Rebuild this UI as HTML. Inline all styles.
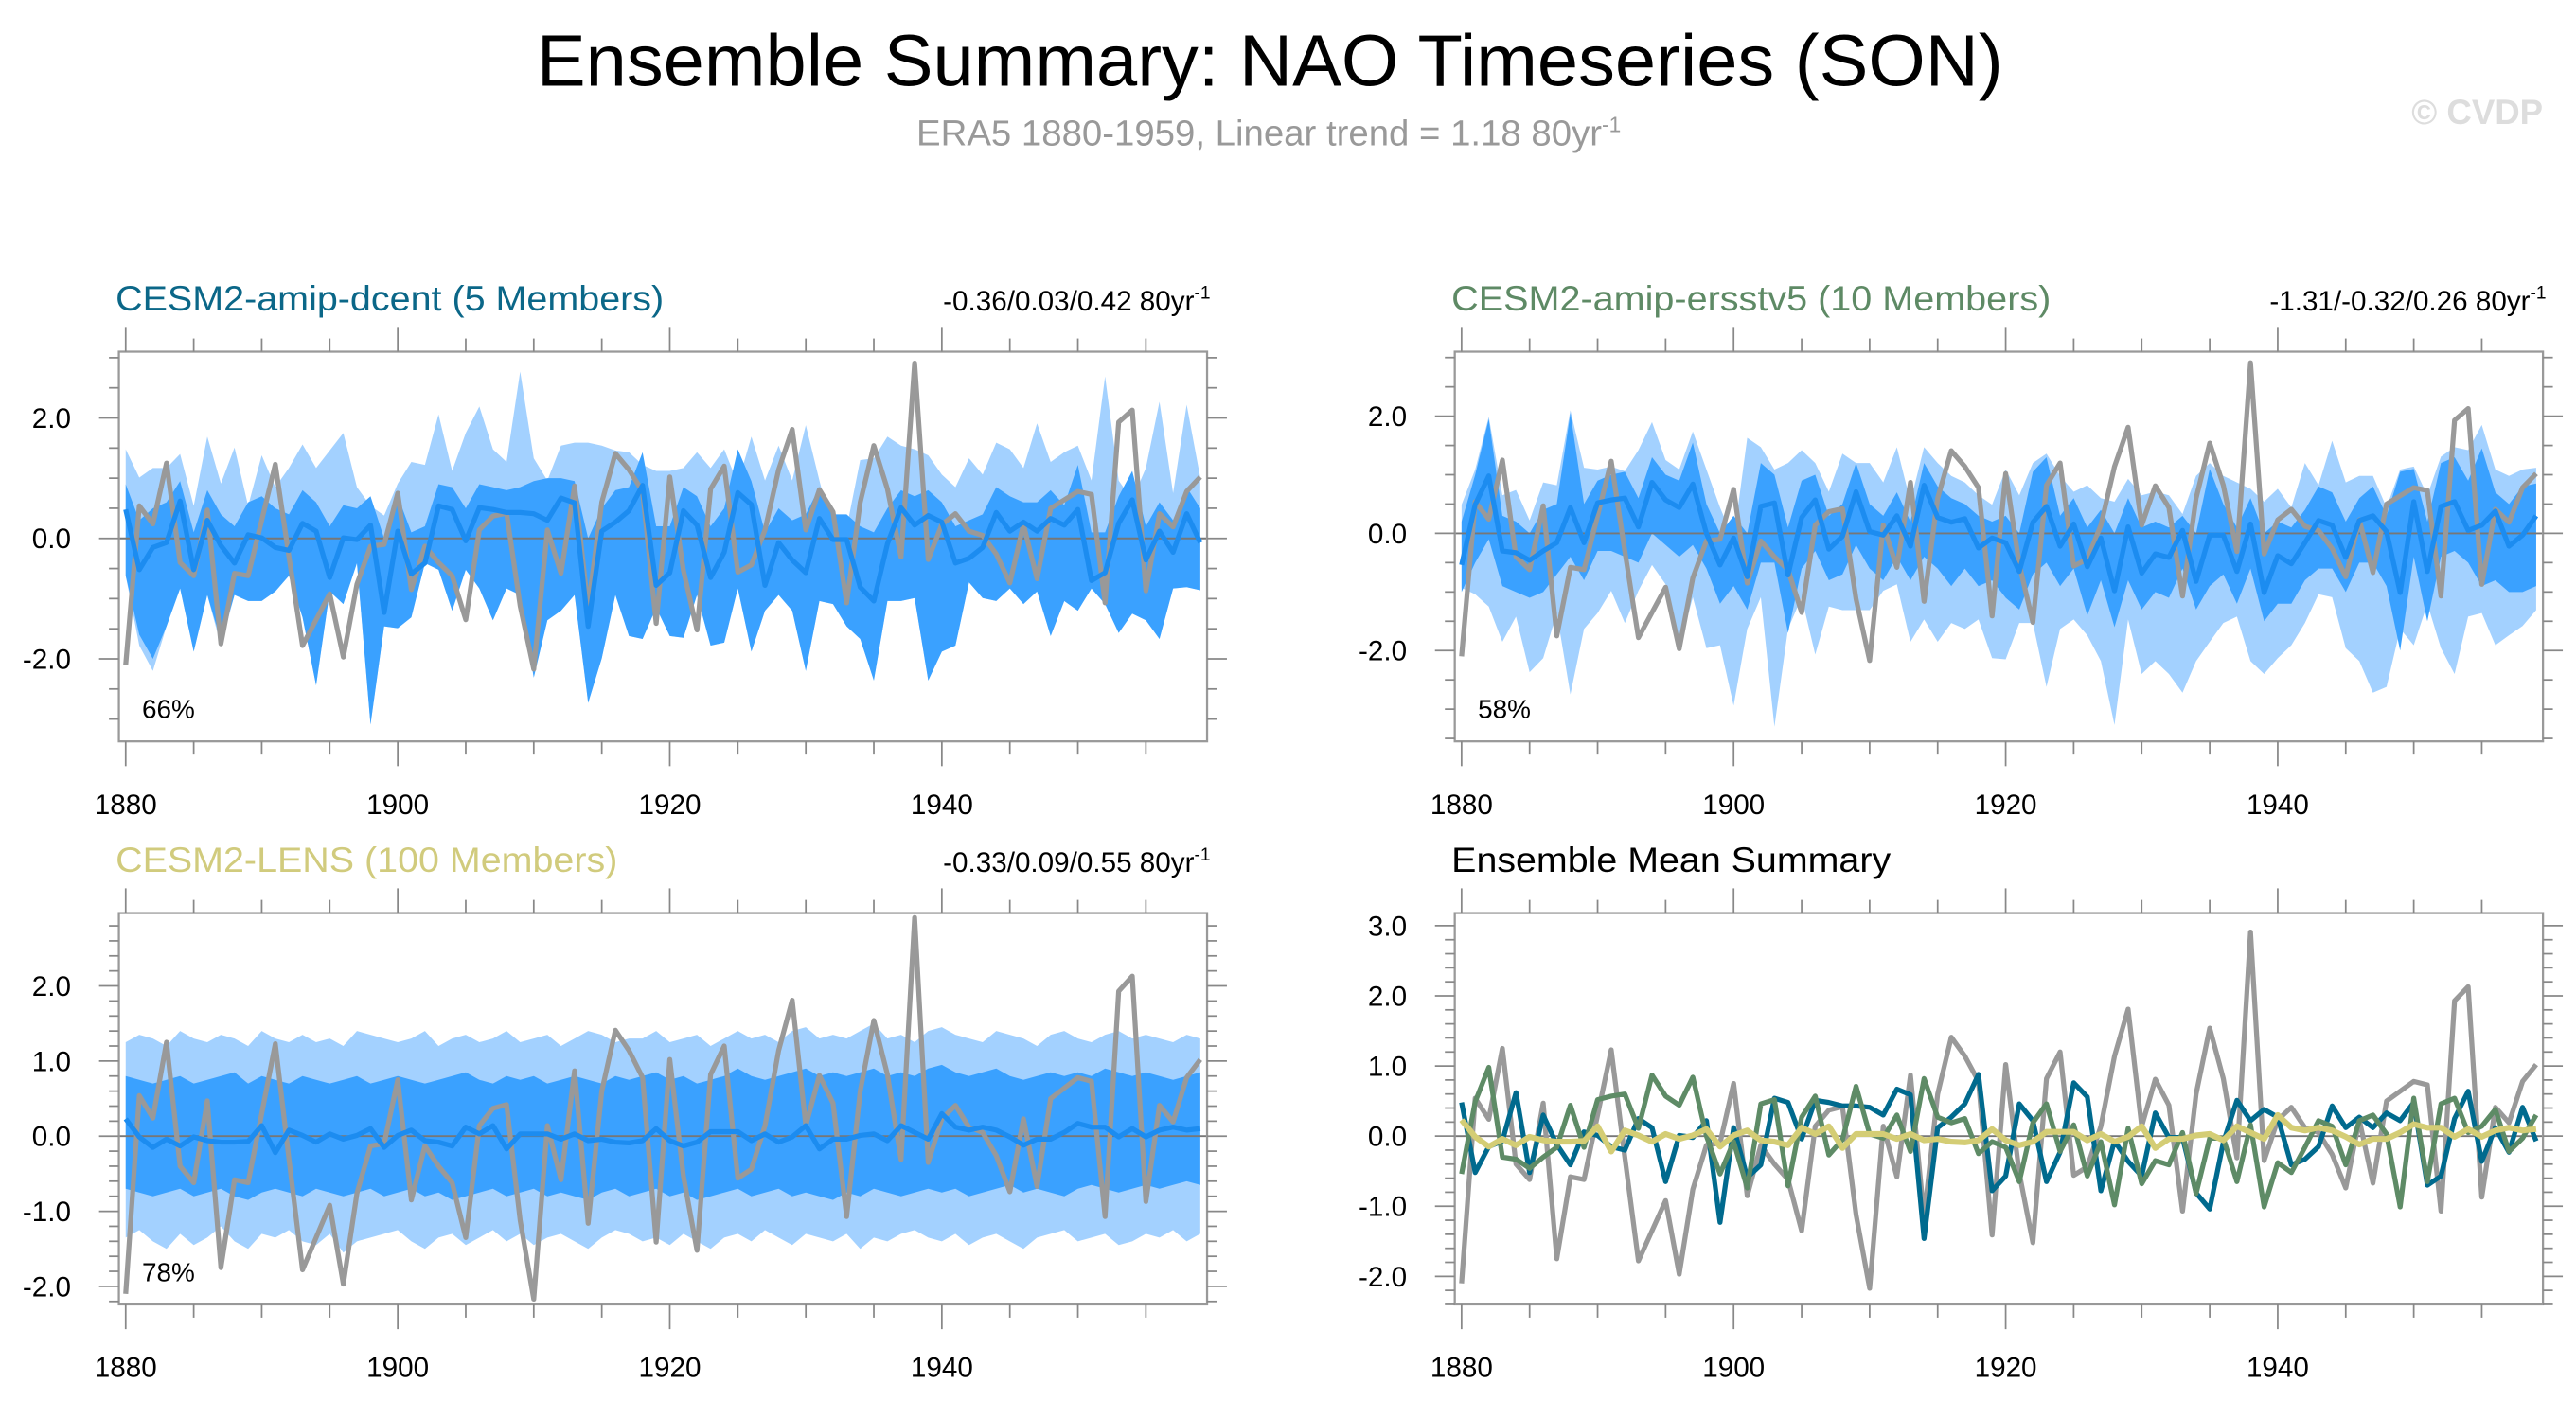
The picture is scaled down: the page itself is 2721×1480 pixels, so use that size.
<!DOCTYPE html>
<html><head><meta charset="utf-8"><style>
html,body{margin:0;padding:0;background:#fff;}
svg{display:block;font-family:"Liberation Sans",Arial,sans-serif;}
</style></head><body>
<svg id="chart" width="2721" height="1480" viewBox="0 0 1560 848.5" preserveAspectRatio="none" xmlns="http://www.w3.org/2000/svg">
<text x="769" y="52" text-anchor="middle" font-size="44" textLength="888" lengthAdjust="spacingAndGlyphs">Ensemble Summary: NAO Timeseries (SON)</text>
<text x="555" y="88" font-size="22" fill="#999">ERA5 1880-1959, Linear trend = 1.18 80yr<tspan dy="-8" font-size="13">-1</tspan></text>
<text x="1540" y="75" text-anchor="end" font-size="21" font-weight="bold" fill="#ddd">© CVDP</text>
<g id="panels"></g>
</svg>
<script>
const years = [];
for (let y = 1880; y <= 1959; y++) years.push(y);
const obs = [-2.1,0.54,0.24,1.25,-0.4,-0.62,0.47,-1.75,-0.58,-0.62,0.3,1.23,-0.3,-1.78,-1.35,-0.92,-1.97,-0.76,-0.13,-0.1,0.75,-0.85,-0.13,-0.4,-0.62,-1.35,0.14,0.37,0.42,-1.12,-2.17,0.14,-0.58,0.87,-1.16,0.6,1.41,1.14,0.78,-1.41,1.02,-0.53,-1.52,0.82,1.2,-0.56,-0.44,0.14,1.14,1.81,0.14,0.81,0.44,-1.07,0.6,1.54,0.82,-0.31,2.91,-0.35,0.23,0.41,0.12,0.05,-0.26,-0.74,0.23,-0.67,0.5,0.64,0.78,0.73,-1.07,1.93,2.13,-0.87,0.41,0.19,0.78,1.02];
const dcentMean = [0.48,-0.52,-0.15,-0.07,0.62,-0.52,0.3,-0.12,-0.41,0.06,0.01,-0.15,-0.2,0.25,0.12,-0.65,0.01,-0.02,0.22,-1.23,0.12,-0.59,-0.41,0.54,0.48,-0.04,0.51,0.48,0.43,0.43,0.41,0.3,0.67,0.59,-1.46,0.12,0.27,0.46,0.88,-0.78,-0.57,0.46,0.22,-0.65,-0.23,0.76,0.56,-0.78,-0.07,-0.36,-0.57,0.33,-0.02,-0.02,-0.81,-1.04,-0.09,0.51,0.22,0.38,0.27,-0.41,-0.33,-0.15,0.43,0.12,0.27,0.12,0.33,0.22,0.48,-0.7,-0.57,0.25,0.64,-0.36,0.12,-0.23,0.41,-0.07];
const dcentLightHi = [1.48,1.01,1.17,1.17,1.4,0.54,1.69,0.91,1.51,0.54,1.38,0.85,1.17,1.56,1.17,1.46,1.75,0.85,0.54,0.38,0.91,1.27,1.22,2.06,1.12,1.75,2.19,1.48,1.27,2.77,1.33,0.96,1.54,1.59,1.59,1.54,1.46,1.43,1.22,1.12,1.12,1.17,1.43,1.17,1.48,0.91,1.69,0.96,1.54,0.96,1.88,0.96,0.12,0.17,1.3,1.33,1.69,1.54,1.48,1.38,1.06,0.85,1.33,1.06,1.59,1.48,1.17,1.91,1.27,1.43,1.54,0.96,2.69,0.96,0.64,1.17,2.27,0.75,2.22,1.01];
const dcentLightLo = [-0.62,-1.78,-2.2,-1.46,-0.83,-1.88,-0.94,-1.78,-0.94,-1.04,-1.04,-0.88,-0.62,-1.31,-2.44,-0.88,-1.09,-0.41,-3.09,-1.46,-1.49,-1.31,-0.41,-0.52,-1.2,-0.52,-0.83,-1.36,-0.83,-0.94,-2.31,-1.36,-1.2,-0.94,-2.73,-1.99,-0.94,-1.62,-1.67,-1.15,-1.62,-1.65,-0.94,-1.78,-1.73,-0.83,-1.88,-1.2,-0.94,-1.2,-2.2,-1.04,-1.09,-1.46,-1.67,-2.36,-1.04,-1.04,-0.99,-2.36,-1.88,-1.78,-0.73,-0.99,-1.04,-0.83,-1.09,-0.88,-1.62,-1.04,-1.2,-0.83,-1.09,-1.57,-1.25,-1.36,-1.67,-0.83,-0.81,-0.86];
const dcentDarkHi = [0.9,0.3,0.5,0.6,0.95,0.1,0.8,0.4,0.2,0.6,0.7,0.5,0.4,0.8,0.6,0.2,0.55,0.5,0.7,0.0,0.7,0.1,0.2,0.9,0.85,0.5,0.9,0.85,0.8,0.85,0.95,1.0,1.0,0.95,0.0,0.5,0.8,0.85,1.43,0.2,0.2,0.85,0.7,0.2,0.5,1.48,0.95,0.1,0.5,0.3,0.4,0.85,0.4,0.4,0.2,0.1,0.5,0.8,0.7,0.8,0.6,0.2,0.3,0.4,0.85,0.7,0.6,0.6,0.8,0.55,1.22,0.1,0.1,0.7,1.12,0.2,0.6,0.3,0.85,0.5];
const dcentDarkLo = [-0.62,-1.6,-2.0,-1.46,-0.83,-1.88,-0.94,-1.7,-0.94,-1.04,-1.04,-0.88,-0.62,-1.31,-2.44,-0.88,-1.09,-0.41,-3.09,-1.46,-1.49,-1.31,-0.41,-0.52,-1.2,-0.52,-0.83,-1.36,-0.83,-0.94,-2.31,-1.36,-1.2,-0.94,-2.73,-1.99,-0.94,-1.62,-1.67,-1.15,-1.62,-1.65,-0.94,-1.78,-1.73,-0.83,-1.88,-1.2,-0.94,-1.2,-2.2,-1.04,-1.09,-1.46,-1.67,-2.36,-1.04,-1.04,-0.99,-2.36,-1.88,-1.78,-0.73,-0.99,-1.04,-0.83,-1.09,-0.88,-1.62,-1.04,-1.2,-0.83,-1.09,-1.57,-1.25,-1.36,-1.67,-0.83,-0.81,-0.86];
const ersstMean = [-0.54,0.49,0.98,-0.3,-0.33,-0.46,-0.3,-0.16,0.44,-0.16,0.52,0.57,0.6,0.11,0.87,0.57,0.44,0.84,0,-0.54,-0.08,-0.74,0.46,0.52,-0.71,0.27,0.57,-0.27,-0.05,0.71,0.03,-0.03,0.3,-0.22,0.82,0.27,0.19,0.25,-0.25,-0.08,-0.16,-0.65,0.19,0.46,-0.22,0.16,-0.57,-0.08,-0.98,0.11,-0.68,-0.35,-0.41,0.05,-0.82,-0.03,-0.03,-0.65,0.16,-1.01,-0.38,-0.52,-0.16,0.22,0.14,-0.41,0.22,0.3,0.03,-1.01,0.54,-0.65,0.46,0.54,0.05,0.14,0.38,-0.22,-0.03,0.3];
const ersstLightHi = [0.49,1.09,1.99,0.65,0.74,0.22,0.87,0.82,2.1,1.12,1.09,1.14,1.06,1.42,1.9,1.25,1.09,1.74,1.09,0.44,-0.11,1.63,1.47,1.09,1.2,1.42,1.2,0.71,1.36,1.2,1.2,0.87,1.47,0.54,1.47,1.2,0.98,0.87,0.65,0.49,1.09,0.65,1.2,1.36,0.98,0.71,0.82,0.6,0.54,0.93,0.65,0.71,0.65,0.33,0.98,1.2,0.98,0.87,0.76,0.54,0.76,0.44,1.2,0.82,1.58,0.87,0.98,0.98,0.44,1.09,1.14,0.65,1.31,1.47,1.42,1.85,1.09,0.98,1.09,1.12];
const ersstLightLo = [-0.93,-1.04,-1.25,-1.85,-1.42,-2.37,-2.13,-1.36,-2.75,-1.63,-1.36,-0.98,-1.53,-0.98,-0.54,-0.87,-1.96,-1.09,-1.96,-1.91,-2.94,-1.63,-1.09,-3.3,-1.63,-1.09,-2.07,-1.25,-1.31,-1.31,-1.31,-0.98,-0.87,-1.85,-1.47,-1.85,-1.53,-1.63,-1.47,-2.13,-2.15,-1.53,-1.53,-2.62,-1.63,-1.47,-1.74,-2.18,-3.27,-1.47,-2.4,-2.18,-2.4,-2.72,-2.18,-1.85,-1.53,-1.42,-2.18,-2.4,-2.13,-1.91,-1.53,-1.04,-1.09,-1.96,-2.18,-2.72,-2.62,-1.63,-1.91,-1.2,-1.96,-2.4,-1.42,-1.36,-1.91,-1.74,-1.58,-1.31];
const ersstDarkHi = [0.2,1.0,1.95,0.3,0.2,0.0,0.4,0.5,2.05,0.5,0.9,1.0,1.05,0.6,1.3,1.0,0.9,1.55,0.5,0.0,0.3,0.0,1.2,1.0,0.1,0.9,1.0,0.3,0.5,1.2,0.5,0.3,0.7,0.2,1.2,0.8,0.6,0.5,0.3,0.2,0.3,0.0,1.05,1.3,0.3,0.6,0.1,0.4,0.0,0.6,0.1,0.2,0.1,0.3,0.0,1.1,0.5,0.1,0.6,0.0,0.2,0.1,0.4,0.8,0.7,0.2,0.6,0.8,0.3,1.05,1.1,0.2,1.2,1.3,0.9,1.45,0.7,0.5,0.8,0.85];
const ersstDarkLo = [-1.0,-0.5,-0.1,-0.9,-1.0,-1.1,-1.0,-0.7,-0.4,-0.8,-0.3,-0.3,-0.4,-0.5,0.0,-0.2,-0.4,-0.2,-0.6,-1.2,-0.9,-1.3,-0.5,-0.5,-1.7,-0.6,-0.3,-0.8,-0.7,-0.2,-0.6,-0.8,-0.4,-0.8,-0.4,-0.6,-0.9,-0.6,-0.9,-0.8,-1.1,-1.3,-0.7,-0.5,-0.9,-0.6,-1.4,-0.8,-1.6,-0.8,-1.3,-1.0,-1.1,-0.6,-1.3,-0.9,-0.7,-1.2,-0.6,-1.5,-1.2,-1.2,-0.8,-0.6,-0.6,-1.0,-0.5,-0.5,-0.9,-2.0,-0.4,-1.5,-0.4,-0.3,-0.5,-0.9,-0.8,-1.0,-1.0,-0.9];
const lensMean = [0.23,-0.01,-0.15,-0.04,-0.13,-0.01,-0.06,-0.08,-0.08,-0.07,0.14,-0.22,0.08,0.01,-0.08,0.03,-0.04,0.01,0.1,-0.15,0.01,0.08,-0.06,-0.08,-0.13,0.12,0.03,0.14,-0.17,0.03,0.03,0.03,-0.04,0.03,-0.06,-0.04,-0.08,-0.09,-0.06,0.1,-0.06,-0.13,-0.08,0.06,0.06,0.06,-0.06,0.03,-0.08,-0.01,0.14,-0.17,-0.04,-0.04,0.01,0.03,-0.06,0.14,0.05,-0.04,0.3,0.12,0.08,0.12,0.08,-0.01,-0.12,-0.04,-0.04,0.05,0.17,0.12,0.12,-0.01,0.1,-0.01,0.08,0.12,0.08,0.1];
const lensLightHi = [1.25,1.35,1.3,1.2,1.4,1.3,1.25,1.35,1.3,1.2,1.4,1.3,1.25,1.35,1.25,1.3,1.2,1.4,1.35,1.3,1.25,1.3,1.4,1.2,1.3,1.35,1.25,1.3,1.4,1.25,1.3,1.35,1.2,1.3,1.4,1.35,1.25,1.3,1.3,1.4,1.25,1.3,1.35,1.2,1.3,1.4,1.3,1.35,1.25,1.4,1.45,1.3,1.35,1.3,1.4,1.5,1.3,1.35,1.25,1.4,1.45,1.35,1.3,1.25,1.4,1.35,1.3,1.2,1.35,1.4,1.3,1.25,1.35,1.4,1.3,1.35,1.3,1.25,1.35,1.3];
const lensLightLo = [-1.35,-1.25,-1.4,-1.5,-1.3,-1.45,-1.35,-1.2,-1.4,-1.5,-1.3,-1.35,-1.25,-1.4,-1.45,-1.3,-1.55,-1.4,-1.35,-1.3,-1.25,-1.4,-1.5,-1.35,-1.3,-1.45,-1.35,-1.25,-1.4,-1.3,-1.45,-1.35,-1.3,-1.4,-1.5,-1.35,-1.25,-1.3,-1.4,-1.35,-1.45,-1.3,-1.4,-1.5,-1.35,-1.3,-1.4,-1.25,-1.35,-1.45,-1.3,-1.35,-1.4,-1.3,-1.5,-1.35,-1.4,-1.3,-1.25,-1.35,-1.4,-1.3,-1.45,-1.35,-1.3,-1.4,-1.5,-1.35,-1.3,-1.25,-1.4,-1.35,-1.3,-1.45,-1.4,-1.3,-1.35,-1.25,-1.4,-1.3];
const lensDarkHi = [0.8,0.75,0.7,0.75,0.8,0.7,0.75,0.8,0.85,0.7,0.8,0.75,0.7,0.8,0.75,0.7,0.75,0.8,0.7,0.75,0.8,0.75,0.7,0.75,0.8,0.85,0.75,0.7,0.8,0.75,0.8,0.7,0.75,0.8,0.75,0.7,0.8,0.75,0.8,0.85,0.75,0.8,0.7,0.75,0.8,0.9,0.8,0.75,0.8,0.85,0.9,0.8,0.85,0.8,0.85,0.9,0.8,0.85,0.8,0.9,0.95,0.85,0.8,0.85,0.9,0.8,0.75,0.8,0.85,0.8,0.85,0.8,0.9,0.85,0.8,0.85,0.8,0.75,0.8,0.85];
const lensDarkLo = [-0.7,-0.75,-0.8,-0.75,-0.7,-0.8,-0.75,-0.7,-0.8,-0.85,-0.75,-0.7,-0.75,-0.8,-0.7,-0.75,-0.8,-0.75,-0.7,-0.8,-0.75,-0.7,-0.8,-0.75,-0.85,-0.8,-0.75,-0.7,-0.8,-0.75,-0.7,-0.8,-0.75,-0.8,-0.85,-0.75,-0.7,-0.8,-0.75,-0.7,-0.8,-0.75,-0.85,-0.8,-0.75,-0.7,-0.8,-0.75,-0.7,-0.8,-0.75,-0.8,-0.85,-0.75,-0.8,-0.7,-0.75,-0.8,-0.75,-0.7,-0.75,-0.7,-0.8,-0.75,-0.7,-0.65,-0.75,-0.7,-0.75,-0.8,-0.7,-0.65,-0.7,-0.75,-0.7,-0.65,-0.7,-0.65,-0.6,-0.65];
const xTickLabels = ["1880","1900","1920","1940"];
const yLabelsTop = ["-2.0","0.0","2.0"];
const yLabelsBottomLeft = ["-2.0","-1.0","0.0","1.0","2.0"];
const yLabelsBottomRight = ["-2.0","-1.0","0.0","1.0","2.0","3.0"];

const NS = "http://www.w3.org/2000/svg";
const root = document.getElementById('panels');
function mk(tag, parent, attrs) {
  const e = document.createElementNS(NS, tag);
  for (const k in attrs) e.setAttribute(k, attrs[k]);
  parent.appendChild(e);
  return e;
}
function makePanel(p) {
  const g = mk('g', root, {});
  
  
  const xs = yr => p.x0 + (yr - 1879.5) / 80 * (p.x1 - p.x0);
  const ys = v => p.y1 - (v - p.ymin) / (p.ymax - p.ymin) * (p.y1 - p.y0);
  const clip = 'clip-' + p.name;
  const cp = mk('clipPath', g, {id: clip});
  mk('rect', cp, {x: p.x0, y: p.y0, width: p.x1 - p.x0, height: p.y1 - p.y0});
  const inner = mk('g', g, {'clip-path': 'url(#' + clip + ')'});
  function band(hi, lo, color, nm) {
    let d = '';
    years.forEach((y, i) => { d += (i ? 'L' : 'M') + xs(y).toFixed(2) + ',' + ys(hi[i]).toFixed(2); });
    for (let i = years.length - 1; i >= 0; i--) d += 'L' + xs(years[i]).toFixed(2) + ',' + ys(lo[i]).toFixed(2);
    const e = mk('path', inner, {d: d + 'Z', fill: color});
    
    
  }
  function line(vals, color, w, nm) {
    const d = years.map((y, i) => (i ? 'L' : 'M') + xs(y).toFixed(2) + ',' + ys(vals[i]).toFixed(2)).join('');
    const e = mk('path', inner, {d: d, fill: 'none', stroke: color, 'stroke-width': w, 'stroke-linejoin': 'round'});
    
    
  }
  if (p.bands) {
    band(p.bands[0], p.bands[1], '#a3d1ff', 'spread-band-outer');
    band(p.bands[2], p.bands[3], '#3aa1ff', 'spread-band-inner');
  }
  const zl = mk('line', inner, {x1: p.x0, x2: p.x1, y1: ys(0), y2: ys(0), stroke: '#777', 'stroke-width': 1.1});
  
  
  p.lines.forEach(l => line(l[0], l[1], l[2], l[3]));
  const bx = mk('rect', g, {x: p.x0, y: p.y0, width: p.x1 - p.x0, height: p.y1 - p.y0, fill: 'none', stroke: '#999', 'stroke-width': 1.3});
  
  
  const tk = mk('g', g, {stroke: '#888', 'stroke-width': 1});
  
  
  for (let yr = 1880; yr <= 1955; yr += 5) {
    const x = xs(yr), L = (yr % 20 === 0) ? 15 : 8;
    mk('line', tk, {x1: x, x2: x, y1: p.y1, y2: p.y1 + L});
    mk('line', tk, {x1: x, x2: x, y1: p.y0, y2: p.y0 - L});
  }
  xTickLabels.forEach((lab, i) => {
    const t = mk('text', g, {x: xs(1880 + 20 * i), y: p.y1 + 44, 'text-anchor': 'middle', 'font-size': 17});
    t.textContent = lab;
    
    
  });
  const nMin = Math.ceil(p.ymin / p.minor - 1e-6), nMax = Math.floor(p.ymax / p.minor + 1e-6);
  for (let n = nMin; n <= nMax; n++) {
    const v = n * p.minor, y = ys(v);
    const major = Math.abs(v / p.major - Math.round(v / p.major)) < 1e-6;
    const L = major ? 12 : 6;
    mk('line', tk, {x1: p.x0, x2: p.x0 - L, y1: y, y2: y});
    mk('line', tk, {x1: p.x1, x2: p.x1 + L, y1: y, y2: y});
  }
  p.ylabels.forEach(lab => {
    const t = mk('text', g, {x: p.x0 - 29, y: ys(parseFloat(lab)) + 6, 'text-anchor': 'end', 'font-size': 17});
    t.textContent = lab;
    
    
  });
  const tt = mk('text', g, {x: p.x0 - 2, y: p.y0 - 25, 'font-size': 21.5, fill: p.titleColor});
  if (p.titleLen) { tt.setAttribute('textLength', p.titleLen); tt.setAttribute('lengthAdjust', 'spacingAndGlyphs'); }
  tt.textContent = p.title;
  
  
  if (p.trend) {
    const tr = mk('text', g, {x: p.x1 + 2, y: p.y0 - 25, 'text-anchor': 'end', 'font-size': 17});
    tr.innerHTML = p.trend + ' 80yr<tspan dy="-7" font-size="11">-1</tspan>';
    
    
  }
  if (p.pct) {
    const pc = mk('text', g, {x: p.x0 + 14, y: p.y1 - 14, 'font-size': 16});
    pc.textContent = p.pct;
    
    
  }
}
const blue = '#1c8cf0', grey = '#999';
makePanel({name: 'panel-cesm2-amip-dcent', x0: 72, x1: 731, y0: 213, y1: 449, ymin: -3.37, ymax: 3.1, minor: 0.5, major: 2, ylabels: yLabelsTop,
  bands: [dcentLightHi, dcentLightLo, dcentDarkHi, dcentDarkLo],
  lines: [[obs, grey, 3, 'obs-line'], [dcentMean, blue, 3, 'ensemble-mean-line']],
  title: 'CESM2-amip-dcent (5 Members)', titleColor: '#0b6788', titleLen: 332, trend: '-0.36/0.03/0.42', pct: '66%'});
makePanel({name: 'panel-cesm2-amip-ersstv5', x0: 881, x1: 1540, y0: 213, y1: 449, ymin: -3.55, ymax: 3.1, minor: 0.5, major: 2, ylabels: yLabelsTop,
  bands: [ersstLightHi, ersstLightLo, ersstDarkHi, ersstDarkLo],
  lines: [[obs, grey, 3, 'obs-line'], [ersstMean, blue, 3, 'ensemble-mean-line']],
  title: 'CESM2-amip-ersstv5 (10 Members)', titleColor: '#5e8a65', titleLen: 363, trend: '-1.31/-0.32/0.26', pct: '58%'});
makePanel({name: 'panel-cesm2-lens', x0: 72, x1: 731, y0: 553, y1: 790, ymin: -2.24, ymax: 2.97, minor: 0.2, major: 1, ylabels: yLabelsBottomLeft,
  bands: [lensLightHi, lensLightLo, lensDarkHi, lensDarkLo],
  lines: [[obs, grey, 3, 'obs-line'], [lensMean, blue, 3, 'ensemble-mean-line']],
  title: 'CESM2-LENS (100 Members)', titleColor: '#d1cb7d', titleLen: 304, trend: '-0.33/0.09/0.55', pct: '78%'});
makePanel({name: 'panel-ensemble-mean-summary', x0: 881, x1: 1540, y0: 553, y1: 790, ymin: -2.40, ymax: 3.18, minor: 0.2, major: 1, ylabels: yLabelsBottomRight,
  bands: null,
  lines: [[obs, grey, 3, 'obs-line'], [dcentMean, '#006a8e', 3, 'dcent-mean-line'], [ersstMean, '#5e8b66', 3, 'ersstv5-mean-line'], [lensMean, '#d4cd75', 3.5, 'lens-mean-line']],
  title: 'Ensemble Mean Summary', titleColor: '#000', titleLen: 266, trend: null, pct: null});
</script>
</body></html>
